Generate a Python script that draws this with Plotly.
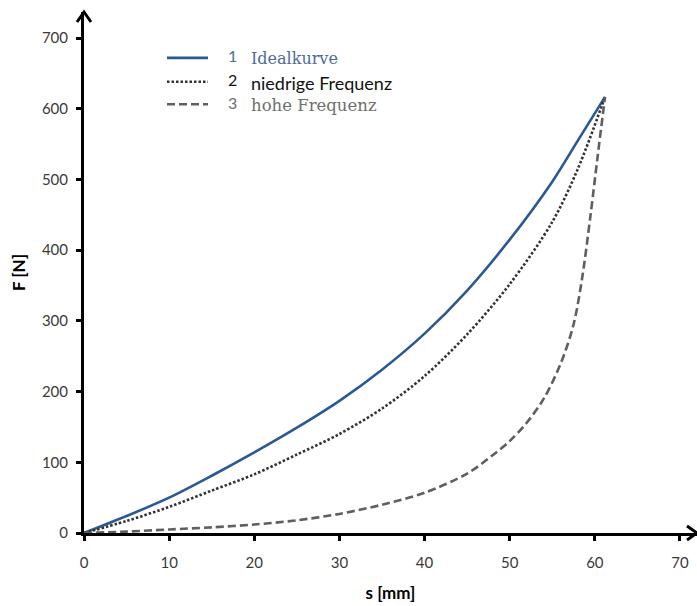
import plotly.graph_objects as go

# ---- data ----
s_ideal = [0, 5, 10, 15, 20, 25, 30, 35, 40, 45, 50, 55, 58, 61.2]
f_ideal = [0, 24, 50, 81, 114, 149, 187, 231, 282, 343, 415, 497, 555, 617]

s_low = [0, 5, 10, 15, 20, 25, 30, 35, 40, 45, 50, 55, 58, 61.2]
f_low = [0, 17, 37, 60, 83, 111, 140, 176, 222, 281, 352, 440, 515, 617]

s_high = [0, 5, 10, 15, 20, 25, 30, 35, 40, 45, 48, 50, 52, 54, 56, 57.5, 58.5, 59.5, 60.3, 61.2]
f_high = [0, 2, 5, 8, 12, 18, 27, 40, 57, 84, 110, 130, 156, 190, 240, 295, 360, 450, 530, 617]

series_numbers = ["1", "2", "3"]
series_names = ["Idealkurve", "niedrige Frequenz", "hohe Frequenz"]

x_ticks = [0, 10, 20, 30, 40, 50, 60, 70]
y_ticks = [0, 100, 200, 300, 400, 500, 600, 700]
x_title = "s [mm]"
y_title = "F [N]"

X_MAX = 72.0
Y_MAX = 737.0

colors = ["#2c5894", "#333333", "#5f5f5f"]
dashes = ["solid", "2.5px,2px", "8px,4px"]
label_colors = ["#4d6b97", "#111111", "#6e6e6e"]
label_fonts = ["DejaVu Serif", "Lato", "DejaVu Serif"]
label_sizes = [16, 18, 16.5]
number_colors = ["#4d6b97", "#111111", "#6e6e6e"]

fig = go.Figure()
for xs, ys, c, d, n in zip([s_ideal, s_low, s_high], [f_ideal, f_low, f_high], colors, dashes, series_names):
    fig.add_trace(go.Scatter(
        x=xs, y=ys, mode="lines", name=n,
        line=dict(color=c, width=2.6, dash=d, shape="spline", smoothing=0.9),
        showlegend=False, hoverinfo="skip",
    ))

axis_common = dict(
    showline=True, linecolor="black", linewidth=3,
    ticks="outside", ticklen=5, tickwidth=3, tickcolor="black",
    showgrid=False, zeroline=False,
    tickfont=dict(family="Lato", size=15, color="#3a3a3a"),
    title_font=dict(family="Lato", size=17, color="black"),
)

fig.update_xaxes(range=[0, X_MAX], tickvals=x_ticks, ticktext=[str(v) for v in x_ticks],
                 ticklabelstandoff=9,
                 title=dict(text="<b>" + x_title + "</b>", standoff=18), **axis_common)
fig.update_yaxes(range=[0, Y_MAX], tickvals=y_ticks, ticktext=[str(v) for v in y_ticks],
                 ticklabelstandoff=5,
                 title=dict(text="<b>" + y_title + "</b>", standoff=12), **axis_common)

# axis arrowheads (pixel-sized chevrons anchored at axis ends, not clipped)
fig.add_shape(type="path", xref="paper", yref="paper", xsizemode="pixel", ysizemode="pixel",
              xanchor=0, yanchor=1, path="M-7,-10 L0,0 L7,-10",
              line=dict(color="black", width=3))
fig.add_shape(type="path", xref="paper", yref="paper", xsizemode="pixel", ysizemode="pixel",
              xanchor=1, yanchor=0, path="M-10,7 L0,0 L-10,-7",
              line=dict(color="black", width=3))

# manual legend
row_y = [0.912, 0.866, 0.823]
for i in range(3):
    fig.add_shape(type="line", xref="paper", yref="paper",
                  x0=(167 - 84) / 613, x1=(208 - 84) / 613, y0=row_y[i], y1=row_y[i],
                  line=dict(color=colors[i], width=2.6, dash=dashes[i]))
    fig.add_annotation(xref="paper", yref="paper", x=(226 - 84) / 613, y=row_y[i] + 0.004,
                       xanchor="left", yanchor="middle", showarrow=False,
                       text=series_numbers[i],
                       font=dict(family="Lato", size=16, color=number_colors[i]))
    fig.add_annotation(xref="paper", yref="paper", x=(249 - 84) / 613, y=row_y[i] - 0.002,
                       xanchor="left", yanchor="middle", showarrow=False,
                       text=series_names[i],
                       font=dict(family=label_fonts[i], size=label_sizes[i],
                                 color=label_colors[i]))

fig.update_layout(
    width=697, height=606,
    margin=dict(l=84, r=0, t=12, b=73),
    plot_bgcolor="white", paper_bgcolor="white",
    showlegend=False,
)

fig.write_html("out.html")
